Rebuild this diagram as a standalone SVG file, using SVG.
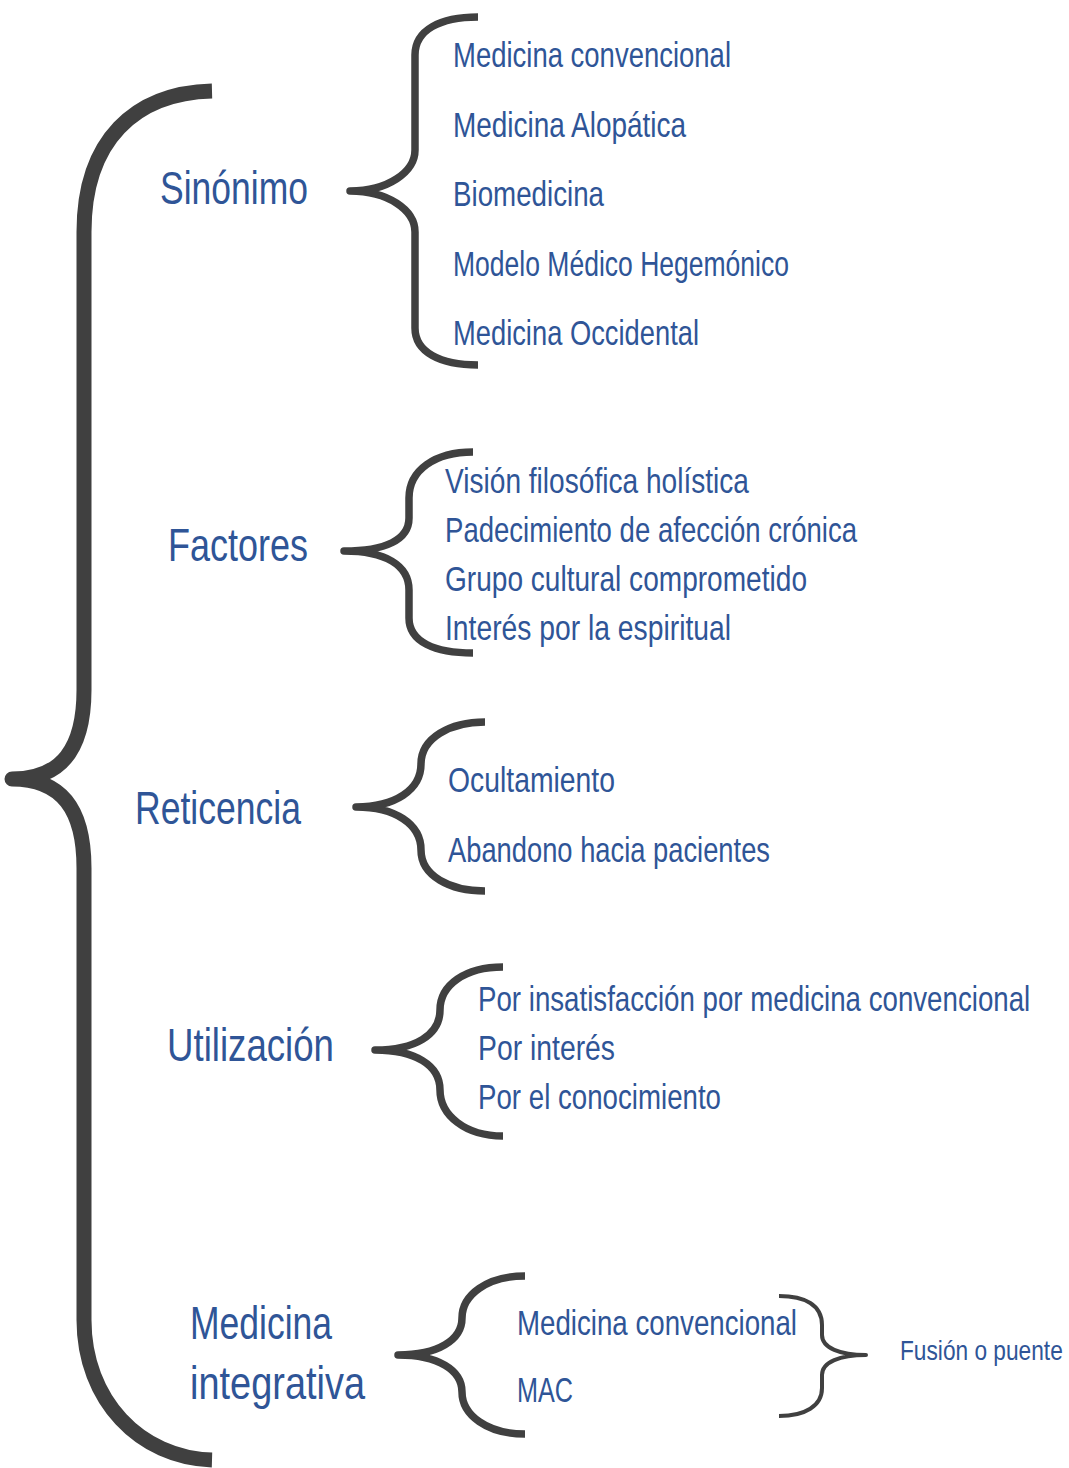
<svg xmlns="http://www.w3.org/2000/svg" width="1069" height="1468" viewBox="0 0 1069 1468">
<style>
.b{fill:none;stroke:#404040;stroke-linecap:butt;stroke-linejoin:round}
.t{font-family:"Liberation Sans",Arial,sans-serif;fill:#2f5597}
.h{font-size:46px}
.c{font-size:35px}
.s{font-size:28px}
</style>
<rect width="1069" height="1468" fill="#ffffff"/>
<g id="connectors">
<path class="b" stroke-width="15" d="M212,91 C135,93 84,140 84,232 L84,690 C84,748 62,779 12,779 C62,779 84,810 84,868 L84,1320 C84,1400 140,1458 212,1460"/>
<path class="b" stroke-width="7.5" d="M478,17 C440,17 415,30 415,55 L415,150 C415,172 388,191 350,191 C388,191 415,210 415,232 L415,328 C415,352 440,365 478,365"/>
<path class="b" stroke-width="7.5" d="M473,452 C435,452 409,470 409,498 L409,518 C409,540 385,551 344,551 C385,551 409,565 409,590 L409,618 C409,642 435,653 473,653"/>
<path class="b" stroke-width="7.5" d="M485,722 C450,722 421,738 421,764 C421,790 395,807 356,807 C395,807 421,824 421,850 C421,876 450,891 485,891"/>
<path class="b" stroke-width="7.5" d="M503,967 C465,967 440,985 440,1010 C440,1035 415,1050 375,1050 C415,1050 440,1065 440,1090 C440,1115 465,1136 503,1136"/>
<path class="b" stroke-width="7.5" d="M525,1276 C487,1276 462,1295 462,1318 C462,1340 438,1355 398,1355 C438,1355 462,1370 462,1392 C462,1415 487,1434 525,1434"/>
<path class="b" stroke-width="4" d="M779,1296 C805,1296 822,1305 822,1325 L822,1335 C822,1348 840,1355 866,1355 C840,1355 822,1362 822,1375 L822,1388 C822,1406 805,1416 779,1416"/>
</g>
<g id="sinonimo"><text class="t h" x="160" y="204" textLength="148" lengthAdjust="spacingAndGlyphs">Sinónimo</text></g>
<g id="sinonimo-items">
<text class="t c" x="453" y="67" textLength="278" lengthAdjust="spacingAndGlyphs">Medicina convencional</text>
<text class="t c" x="453" y="137" textLength="233" lengthAdjust="spacingAndGlyphs">Medicina Alopática</text>
<text class="t c" x="453" y="206" textLength="151" lengthAdjust="spacingAndGlyphs">Biomedicina</text>
<text class="t c" x="453" y="276" textLength="336" lengthAdjust="spacingAndGlyphs">Modelo Médico Hegemónico</text>
<text class="t c" x="453" y="345" textLength="246" lengthAdjust="spacingAndGlyphs">Medicina Occidental</text>
</g>
<g id="factores"><text class="t h" x="168" y="561" textLength="140" lengthAdjust="spacingAndGlyphs">Factores</text></g>
<g id="factores-items">
<text class="t c" x="445" y="493" textLength="304" lengthAdjust="spacingAndGlyphs">Visión filosófica holística</text>
<text class="t c" x="445" y="542" textLength="412" lengthAdjust="spacingAndGlyphs">Padecimiento de afección crónica</text>
<text class="t c" x="445" y="591" textLength="362" lengthAdjust="spacingAndGlyphs">Grupo cultural comprometido</text>
<text class="t c" x="445" y="640" textLength="286" lengthAdjust="spacingAndGlyphs">Interés por la espiritual</text>
</g>
<g id="reticencia"><text class="t h" x="135" y="824" textLength="166" lengthAdjust="spacingAndGlyphs">Reticencia</text></g>
<g id="reticencia-items">
<text class="t c" x="448" y="792" textLength="167" lengthAdjust="spacingAndGlyphs">Ocultamiento</text>
<text class="t c" x="448" y="862" textLength="322" lengthAdjust="spacingAndGlyphs">Abandono hacia pacientes</text>
</g>
<g id="utilizacion"><text class="t h" x="167" y="1061" textLength="167" lengthAdjust="spacingAndGlyphs">Utilización</text></g>
<g id="utilizacion-items">
<text class="t c" transform="translate(478,1011) scale(0.79,1)" x="0" y="0" textLength="699" lengthAdjust="spacingAndGlyphs">Por insatisfacción por medicina convencional</text>
<text class="t c" x="478" y="1060" textLength="137" lengthAdjust="spacingAndGlyphs">Por interés</text>
<text class="t c" x="478" y="1109" textLength="243" lengthAdjust="spacingAndGlyphs">Por el conocimiento</text>
</g>
<g id="medicina-integrativa">
<text class="t h" x="190" y="1339" textLength="142" lengthAdjust="spacingAndGlyphs">Medicina</text>
<text class="t h" x="190" y="1399" textLength="175" lengthAdjust="spacingAndGlyphs">integrativa</text>
</g>
<g id="integrativa-items">
<text class="t c" x="517" y="1335" textLength="280" lengthAdjust="spacingAndGlyphs">Medicina convencional</text>
<text class="t c" x="517" y="1402" textLength="56" lengthAdjust="spacingAndGlyphs">MAC</text>
</g>
<g id="fusion"><text class="t s" transform="translate(900,1360) scale(0.81,1)" x="0" y="0" textLength="201" lengthAdjust="spacingAndGlyphs">Fusión o puente</text></g>
</svg>
